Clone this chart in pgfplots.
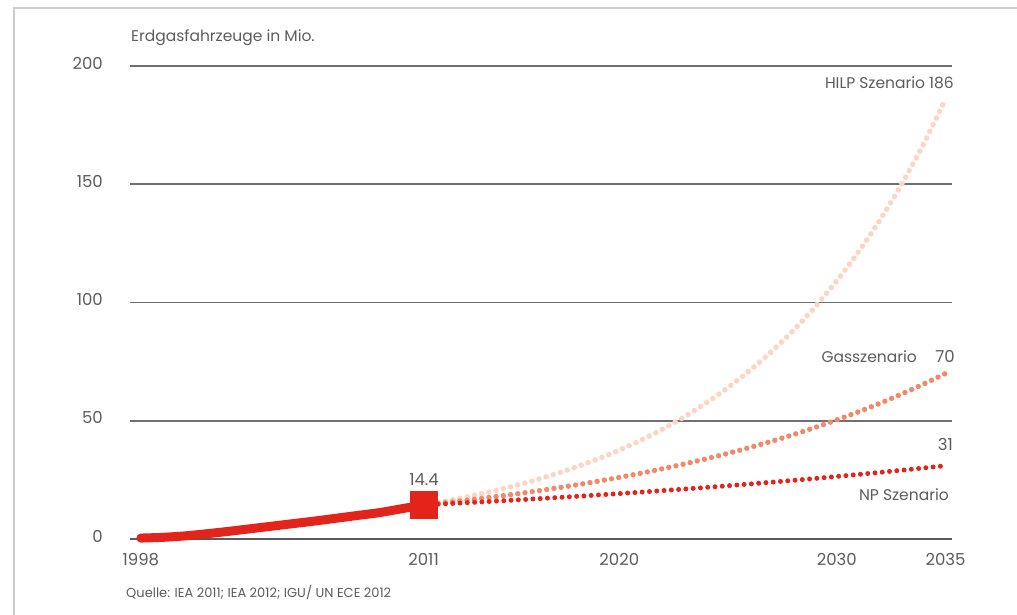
\documentclass[border=0pt]{standalone}
\usepackage{fontspec}
\setmainfont{Poppins}
\usepackage{pgfplots}
\pgfplotsset{compat=1.18}

\definecolor{npred}{HTML}{E3241B}
\definecolor{gasorange}{HTML}{F0896A}
\definecolor{hilppeach}{HTML}{FDD5C4}
\definecolor{txtgray}{HTML}{5C5C5C}
\definecolor{gridgray}{HTML}{707070}
\definecolor{framegray}{HTML}{CDCDCD}

\newcommand{\lblfont}{\fontsize{15.5}{18}\selectfont}
\newcommand{\tickfont}{\fontsize{16.5}{19}\selectfont}
\newcommand{\srcfont}{\fontsize{13}{15}\selectfont}

\begin{document}
\begin{tikzpicture}[x=1pt,y=1pt]
\path[use as bounding box] (0,0) rectangle (1017,614);
% frame
\draw[framegray, line width=2pt] (14,-2) -- (14,606) -- (1019,606);

\begin{axis}[
  at={(130pt,75pt)}, anchor=south west,
  scale only axis, width=822pt, height=473pt,
  xmin=1997.5, xmax=2035.3, ymin=0, ymax=200,
  clip=false,
  axis lines*=left,
  y axis line style={draw=none},
  x axis line style={draw=gridgray!80!black, line width=2.8pt, -},
  xtick={1998,2011,2020,2030,2035},
  ytick={0,50,100,150,200},
  major tick length=0pt,
  ymajorgrids, grid style={draw=gridgray, line width=1.7pt},
  /pgf/number format/1000 sep={},
  /pgf/number format/assume math mode=true,
  ticklabel style={font=\tickfont, text=txtgray, inner sep=0pt},
  xticklabel style={anchor=base, yshift=-26pt},
  yticklabel style={anchor=east, xshift=-27pt, yshift=3pt},
]
% HILP scenario
\addplot[hilppeach, line width=5.6pt, line cap=round, dash pattern=on 0pt off 7.4pt, smooth] coordinates {
 (2011,14.40) (2012,16.02) (2013,17.82) (2014,19.83) (2015,22.06) (2016,24.54)
 (2017,27.30) (2018,30.37) (2019,33.79) (2020,37.59) (2021,41.82) (2022,46.52)
 (2023,51.75) (2024,57.58) (2025,64.05) (2026,71.26) (2027,79.27) (2028,88.19)
 (2029,98.11) (2030,109.15) (2031,121.43) (2032,135.09) (2033,150.29) (2034,167.19)
 (2035,186.0)};
% Gas scenario
\addplot[gasorange, line width=5.4pt, line cap=round, dash pattern=on 0pt off 7.3pt, smooth] coordinates {
 (2011,14.40) (2012,15.38) (2013,16.43) (2014,17.55) (2015,18.74) (2016,20.02)
 (2017,21.38) (2018,22.84) (2019,24.39) (2020,26.06) (2021,27.83) (2022,29.73)
 (2023,31.75) (2024,33.91) (2025,36.22) (2026,38.69) (2027,41.33) (2028,44.14)
 (2029,47.15) (2030,50.36) (2031,53.79) (2032,57.45) (2033,61.37) (2034,65.55)
 (2035,70.0)};
% NP scenario
\addplot[npred, line width=5pt, line cap=round, dash pattern=on 0pt off 7.3pt, smooth] coordinates {
 (2011,14.40) (2012,14.87) (2013,15.35) (2014,15.85) (2015,16.37) (2016,16.90)
 (2017,17.45) (2018,18.01) (2019,18.60) (2020,19.20) (2021,19.83) (2022,20.47)
 (2023,21.13) (2024,21.82) (2025,22.53) (2026,23.26) (2027,24.02) (2028,24.80)
 (2029,25.60) (2030,26.44) (2031,27.30) (2032,28.18) (2033,29.10) (2034,30.04)
 (2035,31.0)};
% history 1998--2011
\addplot[npred, line width=9pt, line cap=round, smooth] coordinates {
 (1998,0.4) (1999,0.7) (2000,1.3) (2001,2.2) (2002,3.2) (2003,4.3) (2004,5.4)
 (2005,6.5) (2006,7.6) (2007,8.8) (2008,10.0) (2009,11.2) (2010,12.8) (2011,14.4)};
\addplot[npred, only marks, mark=square*, mark size=13.5pt] coordinates {(2011,14.4)};

% labels
\begin{scope}[every node/.style={font=\lblfont, text=txtgray, inner sep=0pt}]
\node[anchor=base] at (axis cs:2011.02,22.8) {\tickfont 14.4};
\node[anchor=base east] at (axis cs:2035.39,190.3) {HILP Szenario 186};
\node[anchor=base east] at (axis cs:2033.69,74.8) {Gasszenario};
\node[anchor=base east] at (axis cs:2035.44,74.8) {\tickfont 70};
\node[anchor=base east] at (axis cs:2035.35,37.3) {\tickfont 31};
\node[anchor=base east] at (axis cs:2035.16,16.2) {NP Szenario};
\end{scope}
\end{axis}

\node[anchor=base west, inner sep=0pt, font=\lblfont, text=txtgray] at (131,572) {Erdgasfahrzeuge in Mio.};
\node[anchor=base west, inner sep=0pt, font=\srcfont, text=txtgray] at (126,17) {Quelle: IEA 2011; IEA 2012; IGU/ UN ECE 2012};
\end{tikzpicture}
\end{document}
